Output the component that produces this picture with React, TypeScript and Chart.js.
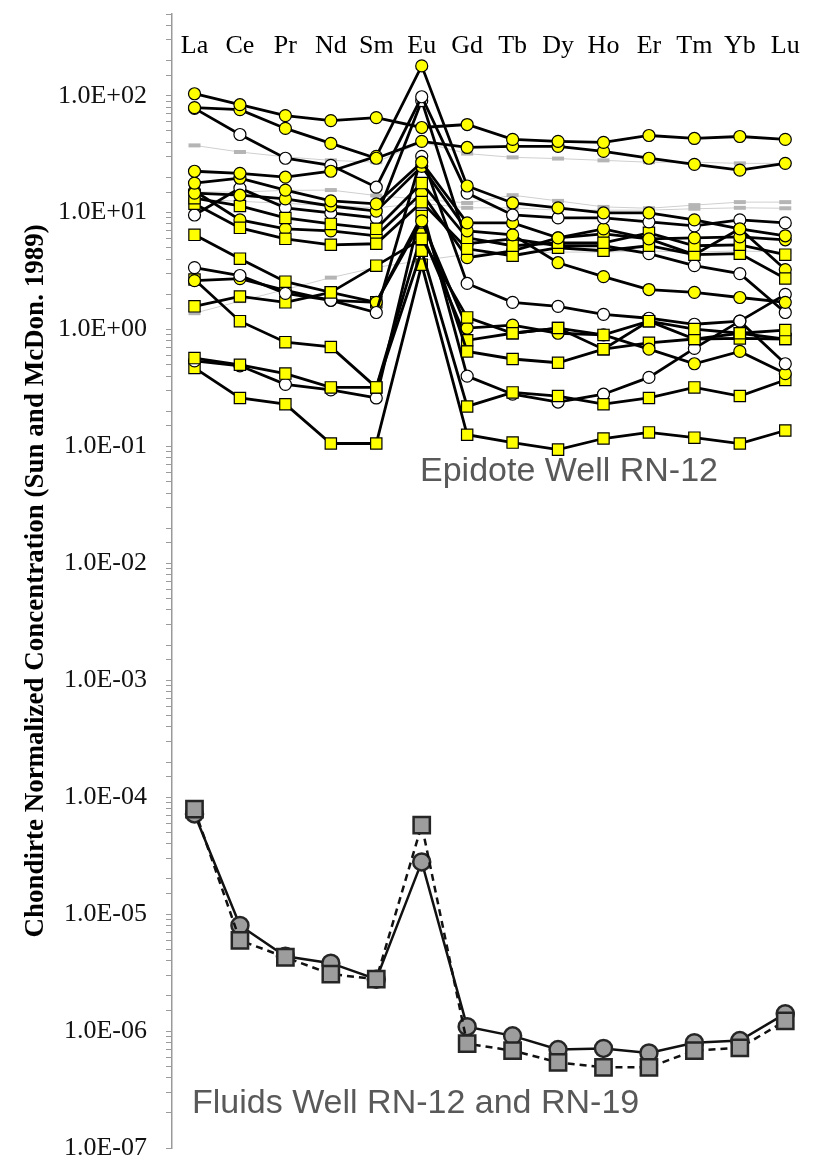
import React, { useEffect, useRef } from 'react';
import { Chart, registerables } from 'chart.js';

Chart.register(...registerables);

// ---------- categories ----------
const elements = ['La', 'Ce', 'Pr', 'Nd', 'Sm', 'Eu', 'Gd', 'Tb', 'Dy', 'Ho', 'Er', 'Tm', 'Yb', 'Lu'];

// ---------- epidote, well RN-12 (chondrite normalized) ----------
const epi01 = [104, 83.8, 67.6, 61.3, 65.0, 53.5, 56.7, 42.3, 40.7, 39.9, 45.7, 43.1, 44.8, 42.3];
const epi02 = [79.1, 76.0, 52.5, 39.1, 29.2, 40.7, 36.1, 36.9, 36.9, 33.4, 29.2, 25.9, 23.1, 26.4];
const epi03 = [22.6, 21.7, 20.1, 22.6, 30.3, 180, 16.9, 12.1, 11.0, 9.94, 9.94, 8.67, 7.27, 6.34];
const epi04 = [78, 46.6, 29.2, 25.4, 16.5, 98, 14.7, 9.55, 9.01, 9.01, 8.34, 7.71, 8.67, 8.17];
const epi05 = [17.9, 19.7, 15.6, 12.6, 11.9, 27.0, 8.17, 8.17, 6.09, 7.27, 5.97, 6.09, 6.21, 5.86];
const epi06 = [14.7, 14.1, 13.1, 11.4, 10.3, 24.9, 6.99, 6.46, 3.73, 2.84, 2.20, 2.08, 1.88, 1.71];
const epi07 = [13.3, 11.4, 9.01, 8.01, 7.27, 17.9, 6.09, 5.21, 5.52, 5.52, 6.72, 5.21, 5.31, 4.37];
const epi08 = [11.9, 7.41, 5.97, 5.31, 5.42, 12.3, 4.91, 4.28, 5.01, 4.72, 5.21, 4.37, 4.46, 2.73];
const epi09 = [9.55, 16.2, 11.0, 9.94, 9.01, 90.7, 5.42, 5.97, 5.21, 5.21, 4.46, 3.52, 3.01, 1.40];
const epi10 = [15.3, 8.67, 7.27, 6.99, 6.34, 14.7, 4.12, 4.72, 6.09, 6.59, 5.97, 4.37, 7.27, 3.26];
const epi11 = [6.46, 4.04, 2.57, 2.08, 3.52, 5.97, 1.27, 0.93, 1.03, 0.90, 1.18, 1.01, 0.93, 0.99];
const epi12 = [3.39, 2.90, 2.04, 1.78, 1.40, 30.3, 2.48, 1.71, 1.58, 1.35, 1.25, 1.11, 1.18, 0.51];
const epi13 = [2.62, 2.73, 2.16, 1.78, 1.71, 8.5, 1.03, 1.09, 0.93, 0.90, 0.68, 0.51, 0.65, 0.42];
const epi14 = [1.58, 1.92, 1.71, 2.08, 1.71, 9.37, 0.65, 0.56, 0.52, 0.68, 0.77, 0.83, 0.84, 0.83];
const epi15 = [2.68, 1.18, 0.78, 0.71, 0.32, 4.72, 0.22, 0.29, 0.27, 0.23, 0.26, 0.32, 0.27, 0.37];
const epi16 = [0.57, 0.50, 0.42, 0.32, 0.32, 6.59, 0.81, 0.93, 1.03, 0.68, 1.18, 0.83, 0.93, 0.83];
const epi17 = [0.54, 0.49, 0.34, 0.305, 0.26, 11.0, 0.40, 0.28, 0.24, 0.28, 0.39, 0.69, 1.18, 2.00];
const epi18 = [0.47, 0.26, 0.23, 0.106, 0.106, 3.59, 0.126, 0.108, 0.094, 0.117, 0.132, 0.119, 0.106, 0.137];

// faint grey reference series
const grey1 = [37.6, 33, 30, 28, 27, 40, 32, 29.7, 29, 28, 27, 27, 26.4, 26.4];
const grey2 = [15, 15, 15.5, 15.6, 14, 13, 12.1, 14.1, 12.6, 11.2, 10.9, 11.6, 12.3, 12.3];
const grey3 = [13, 12.5, 12, 11.5, 11, 12, 11, 11, 10.5, 10.5, 10.5, 10.8, 11.0, 10.9];
const grey4 = [1.38, 1.75, 2.2, 2.78, 3.4, 3.9, 4.4, 4.5, 4.6, 4.6, 4.7, 4.6, 4.7, 4.6];

// ---------- fluids ----------
const fluidCircle = [7.2e-5, 8.0e-6, 4.37e-6, 3.81e-6, 2.78e-6, 2.8e-5, 1.09e-6, 9.1e-7, 6.95e-7, 7.1e-7, 6.5e-7, 7.96e-7, 8.3e-7, 1.41e-6];
const fluidSquare = [7.9e-5, 5.97e-6, 4.28e-6, 3.07e-6, 2.78e-6, 5.78e-5, 7.8e-7, 6.8e-7, 5.4e-7, 4.9e-7, 4.9e-7, 6.8e-7, 7.2e-7, 1.22e-6];

// marker kinds: c = yellow circle, s = yellow square, w = white circle
const epidoteSeries: [number[], string][] = [
  [epi01, 'c'], [epi02, 'c'], [epi03, 'c'], [epi04, 'w'], [epi05, 'c'], [epi06, 'c'],
  [epi07, 's'], [epi08, 's'], [epi09, 'w'], [epi10, 'c'], [epi11, 's'], [epi12, 'w'],
  [epi13, 'c'], [epi14, 's'], [epi15, 's'], [epi16, 's'], [epi17, 'w'], [epi18, 's'],
];
const greySeries = [grey1, grey2, grey3, grey4];

const yTitle = 'Chondirte Normalized Concentration (Sun and McDon. 1989)';
const noteEpidote = 'Epidote Well RN-12';
const noteFluids = 'Fluids Well RN-12 and RN-19';

const toPts = (arr: number[]) => arr.map((v, i) => ({ x: i, y: v }));

const fmtExp = (v: number) => {
  const e = Math.round(Math.log10(v));
  if (Math.abs(v / Math.pow(10, e) - 1) > 1e-6) return '';
  const s = e >= 0 ? '+' : '-';
  const a = Math.abs(e);
  return `1.0E${s}${a < 10 ? '0' + a : a}`;
};

const notesPlugin = {
  id: 'notes',
  afterDraw(chart: any) {
    const ctx = chart.ctx;
    ctx.save();
    ctx.fillStyle = '#595959';
    ctx.font = '34px "Liberation Sans", Arial, sans-serif';
    ctx.textBaseline = 'middle';
    ctx.textAlign = 'left';
    ctx.fillText(noteEpidote, 420, 472);
    ctx.fillText(noteFluids, 192, 1104);
    ctx.restore();
  },
};

export default function App() {
  const ref = useRef<HTMLCanvasElement | null>(null);

  useEffect(() => {
    if (!ref.current) return;
    const datasets: any[] = [];

    datasets.push({
      data: toPts(fluidSquare),
      borderColor: '#111',
      borderWidth: 2.5,
      borderDash: [7, 5],
      pointStyle: 'rect',
      pointRadius: 11.5,
      pointBackgroundColor: '#9d9d9d',
      pointBorderColor: '#262626',
      pointBorderWidth: 2.5,
    });
    datasets.push({
      data: toPts(fluidCircle),
      borderColor: '#111',
      borderWidth: 2.5,
      pointStyle: 'circle',
      pointRadius: 8.5,
      pointBackgroundColor: '#9d9d9d',
      pointBorderColor: '#262626',
      pointBorderWidth: 2.5,
    });

    epidoteSeries.forEach(([arr, kind]) => {
      datasets.push({
        data: toPts(arr),
        borderColor: '#000',
        borderWidth: 2.8,
        pointStyle: kind === 's' ? 'rect' : 'circle',
        pointRadius: kind === 's' ? 8 : 6,
        pointBackgroundColor: kind === 'w' ? '#ffffff' : '#ffff00',
        pointBorderColor: '#000',
        pointBorderWidth: 1.2,
      });
    });

    greySeries.forEach((arr) => {
      datasets.push({
        data: toPts(arr),
        borderColor: '#cfcfcf',
        borderWidth: 1,
        pointStyle: 'line',
        pointRadius: 6,
        pointBorderColor: '#b5b5b5',
        pointBorderWidth: 4,
      });
    });

    const chart = new Chart(ref.current, {
      type: 'line',
      data: { datasets },
      plugins: [notesPlugin],
      options: {
        animation: false,
        responsive: false,
        devicePixelRatio: 1,
        layout: { padding: { top: 0, left: 0, right: 0, bottom: 14 } },
        plugins: { legend: { display: false }, tooltip: { enabled: false } },
        elements: { line: { tension: 0 } },
        scales: {
          x: {
            type: 'linear',
            position: 'top',
            min: -0.495,
            max: 13.39,
            grid: { display: false, drawTicks: false },
            border: { display: false },
            afterBuildTicks: (s: any) => {
              s.ticks = elements.map((_, i) => ({ value: i }));
            },
            afterFit: (s: any) => {
              s.height = 7;
              s.paddingLeft = 0;
              s.paddingRight = 0;
            },
            ticks: {
              mirror: true,
              padding: 17,
              autoSkip: false,
              maxRotation: 0,
              color: '#000',
              font: { family: '"Liberation Serif", "Times New Roman", serif', size: 26 },
              callback: (v: any) => elements[Math.round(Number(v))] ?? '',
            },
          },
          y: {
            type: 'logarithmic',
            min: 1e-7,
            max: 500,
            grid: { drawOnChartArea: false, drawTicks: true, tickLength: 6, color: '#9a9a9a' },
            border: { display: true, color: '#9a9a9a', width: 1.5 },
            afterFit: (s: any) => {
              s.width = 172;
              s.paddingTop = 0;
              s.paddingBottom = 0;
            },
            ticks: {
              autoSkip: false,
              padding: 19,
              color: '#111',
              font: { family: '"Liberation Serif", "Times New Roman", serif', size: 26 },
              callback: (v: any) => fmtExp(Number(v)),
            },
            title: {
              display: true,
              text: yTitle,
              color: '#000',
              padding: { top: 20, bottom: 0 },
              font: { family: '"Liberation Serif", "Times New Roman", serif', size: 27, weight: 'bold' },
            },
          },
        },
      },
    });
    return () => chart.destroy();
  }, []);

  return (
    <div style={{ position: 'absolute', left: 0, top: 0, width: 817, height: 1162, background: '#fff' }}>
      <canvas ref={ref} width={817} height={1162} style={{ display: 'block' }} />
    </div>
  );
}
